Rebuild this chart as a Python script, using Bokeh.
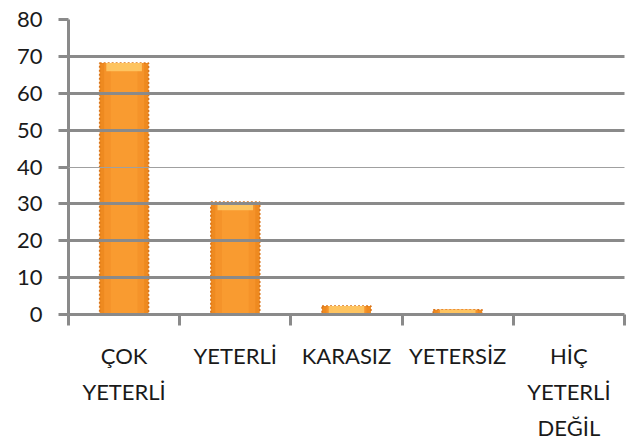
from bokeh.plotting import figure
from bokeh.models import FixedTicker, Range1d, Grid
from bokeh.embed import file_html
from bokeh.resources import INLINE

categories = ["ÇOK YETERLİ", "YETERLİ", "KARASIZ", "YETERSİZ", "HİÇ YETERLİ DEĞİL"]
tick_labels = ["ÇOK\nYETERLİ", "YETERLİ", "KARASIZ", "YETERSİZ", "HİÇ\nYETERLİ\nDEĞİL"]
values = [68.2, 30.5, 2.3, 1.3, 0.0]
y_ticks = [0, 10, 20, 30, 40, 50, 60, 70, 80]

FONT = "Lato"
GREY = "#8a8a8a"

xs = [i + 0.5 for i in range(len(categories))]

p = figure(width=630, height=443, output_backend="svg", toolbar_location=None,
           x_range=Range1d(0, len(categories)), y_range=Range1d(0, 80),
           min_border_left=68, min_border_right=6, min_border_top=19, min_border_bottom=129)
p.outline_line_color = None
p.background_fill_color = "white"
p.border_fill_color = "white"

# bars with a soft shaded look
p.vbar(x=xs, top=values, bottom=0, width=0.44, fill_color="#EE8A20",
       line_color="#D9741A", line_width=1.5, line_dash="2 2")
p.vbar(x=xs, top=values, bottom=0, width=0.36, fill_color="#F5932A", line_color=None)
p.vbar(x=xs, top=values, bottom=0, width=0.24, fill_color="#F99B30", line_color=None)
cap_bottom = [max(v - 2.2, 0) for v in values]
p.vbar(x=xs, top=values, bottom=cap_bottom, width=0.32, fill_color="#FFCB68",
       fill_alpha=0.85, line_color=None)

# grid
p.xgrid.visible = False
p.ygrid.ticker = FixedTicker(ticks=[10, 20, 30, 50, 60, 70, 80])
p.ygrid.grid_line_color = GREY
p.ygrid.grid_line_width = 3
p.ygrid.level = "overlay"
thin = Grid(dimension=1, ticker=FixedTicker(ticks=[40]), grid_line_color="#a0a0a0",
            grid_line_width=1, level="overlay")
p.add_layout(thin)

# y axis
ya = p.yaxis[0]
ya.ticker = FixedTicker(ticks=y_ticks)
ya.axis_line_color = GREY
ya.axis_line_width = 3
ya.major_tick_line_color = GREY
ya.major_tick_line_width = 3
ya.major_tick_out = 10
ya.major_tick_in = 0
ya.minor_tick_line_color = None
ya.major_label_text_font = FONT
ya.major_label_text_font_size = "22px"
ya.major_label_text_color = "#1a1a1a"
ya.major_label_standoff = 16

# x axis
xa = p.xaxis[0]
xa.ticker = FixedTicker(ticks=xs, minor_ticks=list(range(len(categories) + 1)))
xa.major_label_overrides = {x: t for x, t in zip(xs, tick_labels)}
xa.axis_line_color = GREY
xa.axis_line_width = 3
xa.major_tick_line_color = None
xa.major_tick_out = 0
xa.major_tick_in = 0
xa.minor_tick_line_color = GREY
xa.minor_tick_line_width = 3
xa.minor_tick_out = 11
xa.minor_tick_in = 0
xa.major_label_text_font = FONT
xa.major_label_text_font_size = "22px"
xa.major_label_text_color = "#1a1a1a"
xa.major_label_text_line_height = 1.34
xa.major_label_standoff = 16

open("out.html", "w").write(file_html(p, INLINE))
